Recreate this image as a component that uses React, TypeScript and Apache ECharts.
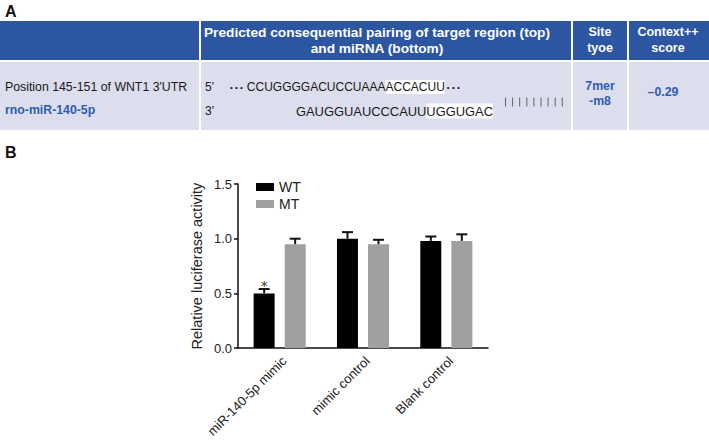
import React, { useEffect, useRef } from "react";
import * as echarts from "echarts";

// ---- Data ----
const categories = ["miR-140-5p mimic", "mimic control", "Blank control"];
const wtValues = [0.5, 1.0, 0.98];
const wtErrors = [0.04, 0.06, 0.04];
const mtValues = [0.95, 0.95, 0.98];
const mtErrors = [0.05, 0.04, 0.06];
const significance = ["*", "", ""];
const seriesNames = ["WT", "MT"];

// ---- Table texts ----
const headerCol2 = ["Predicted consequential pairing of target region (top)", "and miRNA (bottom)"];
const headerCol3 = ["Site", "tyoe"];
const headerCol4 = ["Context++", "score"];
const rowPosition = "Position 145-151 of WNT1 3'UTR";
const rowMirna = "rno-miR-140-5p";
const targetSeq = ["CCUGGGGACUCCUAAA", "ACCACUU"];
const mirnaSeq = ["GAUGGUAUCCCAUU", "UGGUGAC"];
const siteType = ["7mer", "-m8"];
const contextScore = "\u20130.29";
const pairCount = 9;

const FONT = "'Liberation Sans', Arial, Helvetica, sans-serif";
const HEADER = "#2c55a2";
const BODY = "#dcdded";
const BLUE = "#2f5db0";

function txt(x: number, y: number, text: string, opts: any = {}) {
  const align = opts.align || "left";
  return {
    type: "text",
    x,
    y,
    silent: true,
    style: {
      text,
      fill: opts.fill || "#1a1a1a",
      font: `${opts.bold ? "bold " : ""}${opts.size || 12}px ${FONT}`,
      fontFamily: FONT,
      fontSize: opts.size || 12,
      fontWeight: opts.bold ? "bold" : "normal",
      align,
      textAlign: align,
      verticalAlign: "middle",
      textVerticalAlign: "middle",
      rich: opts.rich,
    },
  };
}

export default function App() {
  const ref = useRef<HTMLDivElement>(null);
  useEffect(() => {
    if (!ref.current) return;
    const chart = echarts.init(ref.current, undefined, { renderer: "svg" });

    const offset = 15.5;
    const makeErr = (vals: number[], errs: number[], dx: number, withSig: boolean) => ({
      type: "custom",
      name: "err" + dx,
      z: 5,
      silent: true,
      itemStyle: { color: "#111" },
      data: vals.map((v, i) => [i, v, errs[i]]),
      encode: { x: 0, y: 1 },
      renderItem: (params: any, api: any) => {
        const i = api.value(0);
        const v = api.value(1);
        const e = api.value(2);
        const p0 = api.coord([i, v]);
        const p1 = api.coord([i, v + e]);
        const cx = p0[0] + dx;
        const children: any[] = [
          { type: "line", shape: { x1: cx, y1: p0[1], x2: cx, y2: p1[1] }, style: { stroke: "#111", lineWidth: 2 } },
          { type: "line", shape: { x1: cx - 5.5, y1: p1[1], x2: cx + 5.5, y2: p1[1] }, style: { stroke: "#111", lineWidth: 2 } },
        ];
        if (withSig && significance[i]) {
          children.push({
            type: "text",
            x: cx,
            y: p1[1] - 3,
            style: {
              text: significance[i],
              fill: "#333",
              font: `13px 'DejaVu Serif', serif`,
              align: "center",
              textAlign: "center",
              verticalAlign: "middle",
              textVerticalAlign: "middle",
            },
          });
        }
        return { type: "group", children };
      },
    });

    // table graphics
    const cols = [
      [0, 199],
      [201, 571],
      [573, 627],
      [629, 709],
    ];
    const graphics: any[] = [];
    cols.forEach(([a, b]) => {
      graphics.push({ type: "rect", silent: true, shape: { x: a, y: 21, width: b - a, height: 39 }, style: { fill: HEADER } });
      graphics.push({ type: "rect", silent: true, shape: { x: a, y: 62, width: b - a, height: 68 }, style: { fill: BODY } });
    });
    graphics.push(txt(5, 11, "A", { bold: true, size: 16, fill: "#111" }));
    graphics.push(txt(5, 152, "B", { bold: true, size: 16, fill: "#111" }));
    headerCol2.forEach((t, k) => graphics.push(txt(377, 32 + k * 16, t, { bold: true, fill: "#fff", align: "center", size: 13.7 })));
    headerCol3.forEach((t, k) => graphics.push(txt(600, 32 + k * 16, t, { bold: true, fill: "#fff", align: "center", size: 12.5 })));
    headerCol4.forEach((t, k) => graphics.push(txt(668, 32 + k * 16, t, { bold: true, fill: "#fff", align: "center", size: 12.5 })));
    graphics.push(txt(5, 87, rowPosition, { size: 12.3 }));
    graphics.push(txt(5, 110, rowMirna, { size: 12.3, bold: true, fill: BLUE }));
    graphics.push(txt(205, 87, "5'", { size: 12 }));
    graphics.push(txt(205, 111, "3'", { size: 12 }));
    graphics.push(
      txt(230, 87, `{d|\u2022 \u2022 \u2022}{n|${targetSeq[0]}}{h|${targetSeq[1]}}{e|\u2022 \u2022 \u2022}`, {
        size: 12,
        rich: {
          d: { fontSize: 8, fontFamily: FONT, color: "#1a1a1a", padding: [0, 4, 0, 0] },
          e: { fontSize: 8, fontFamily: FONT, color: "#1a1a1a", padding: [0, 0, 0, 2] },
          n: { fontSize: 12, fontFamily: FONT, color: "#1a1a1a" },
          h: { fontSize: 12, fontFamily: FONT, color: "#1a1a1a", backgroundColor: "#fff", padding: [1, 0, 1, 0] },
        },
      })
    );
    graphics.push(
      txt(296, 111, `{n|${mirnaSeq[0]}}{h|${mirnaSeq[1]}}`, {
        size: 12.9,
        rich: {
          n: { fontSize: 12.9, fontFamily: FONT, color: "#1a1a1a" },
          h: { fontSize: 12.9, fontFamily: FONT, color: "#1a1a1a", backgroundColor: "#fff", padding: [1, 0, 1, 0] },
        },
      })
    );
    for (let k = 0; k < pairCount; k++) {
      const x = 505.5 + k * 7.1;
      graphics.push({ type: "line", silent: true, shape: { x1: x, y1: 97.5, x2: x, y2: 106.5 }, style: { stroke: "#666", lineWidth: 1 } });
    }
    siteType.forEach((t, k) => graphics.push(txt(600, 86 + k * 15, t, { bold: true, fill: BLUE, align: "center", size: 12.3 })));
    graphics.push(txt(663, 92, contextScore, { bold: true, fill: BLUE, align: "center", size: 12.3 }));

    chart.setOption({
      animation: false,
      textStyle: { fontFamily: FONT },
      graphic: graphics,
      grid: { left: 238, top: 184, width: 250, height: 167 },
      legend: {
        data: seriesNames,
        orient: "vertical",
        left: 251,
        top: 175,
        itemWidth: 18,
        itemHeight: 8,
        itemGap: 3,
        icon: "rect",
        textStyle: { fontSize: 14, color: "#222", fontFamily: FONT },
      },
      xAxis: {
        type: "category",
        data: categories,
        axisLine: { lineStyle: { color: "#111", width: 1.5 } },
        axisTick: { alignWithLabel: true, length: 4, lineStyle: { color: "#111", width: 1.5 } },
        axisLabel: { rotate: 45, fontSize: 13, color: "#222", margin: 6, verticalAlign: "top", fontFamily: FONT },
      },
      yAxis: {
        type: "value",
        min: 0,
        max: 1.5,
        interval: 0.5,
        name: "Relative luciferase activity",
        nameLocation: "middle",
        nameRotate: 90,
        nameGap: 34,
        nameTextStyle: { fontSize: 14.5, color: "#222", fontFamily: FONT },
        axisLine: { show: true, lineStyle: { color: "#111", width: 1.5 } },
        axisTick: { show: true, length: 4, lineStyle: { color: "#111", width: 1.5 } },
        axisLabel: { fontSize: 13, color: "#222", margin: 6, formatter: (v: number) => v.toFixed(1), fontFamily: FONT },
        splitLine: { show: false },
      },
      series: [
        { type: "bar", name: seriesNames[0], data: wtValues, barWidth: 21, barGap: "48%", itemStyle: { color: "#000" } },
        { type: "bar", name: seriesNames[1], data: mtValues, barWidth: 21, barGap: "48%", itemStyle: { color: "#a0a0a0" } },
        makeErr(wtValues, wtErrors, -offset, true),
        makeErr(mtValues, mtErrors, offset, false),
      ],
    });
    return () => chart.dispose();
  }, []);
  return <div ref={ref} style={{ position: "fixed", left: 0, top: 0, width: 709, height: 440, background: "#fff" }} />;
}
